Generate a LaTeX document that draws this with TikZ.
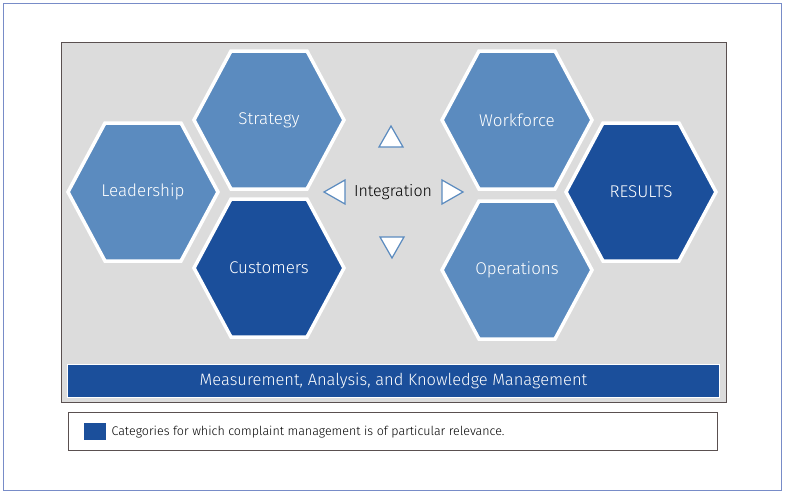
\documentclass[tikz,border=0pt]{standalone}
\usepackage{fontspec}
\setmainfont{Fira Sans Light}
\begin{document}
\begin{tikzpicture}[x=1pt,y=-1pt,
  hexa/.style={draw=white,line width=3.5pt,line join=miter},
  light/.style={fill=lb},dark/.style={fill=db},
  lab/.style={text=white,font=\fontsize{17}{20}\selectfont},
  tri/.style={fill=white,draw=lb,line width=1.2pt,line join=miter}]
\definecolor{lb}{HTML}{5B8BBF}
\definecolor{db}{HTML}{1B4F9B}
\definecolor{gr}{HTML}{DCDCDC}
\useasboundingbox (0,0) rectangle (785,493);
\draw[draw={rgb,255:red,120;green,140;blue,200},line width=0.8pt] (3,3) rectangle (781,490);
\draw[fill=gr,draw={rgb,255:red,90;green,80;blue,80},line width=0.8pt] (61,42) rectangle (726,402);
\newcommand{\hexag}[4]{%
 \draw[hexa,#3] (#1-75,#2) -- (#1-38,#2-69) -- (#1+38,#2-69) -- (#1+75,#2) -- (#1+38,#2+69) -- (#1-38,#2+69) -- cycle;
 \node[lab] (#4) at (#1,#2) {#4};}
\hexag{143}{192}{light}{Leadership}
\hexag{269}{120}{light}{Strategy}
\hexag{269}{268}{dark}{Customers}
\hexag{517}{120}{light}{Workforce}
\hexag{517}{270}{light}{Operations}
\hexag{641}{192}{dark}{RESULTS}
\node[font=\fontsize{16}{19}\selectfont] (int) at (393,192) {Integration};
\draw[tri] (379,147) -- (403,147) -- (391,126) -- cycle;
\draw[tri] (345,180) -- (345,204) -- (324,192) -- cycle;
\draw[tri] (442,180) -- (442,204) -- (463,192) -- cycle;
\draw[tri] (380,237) -- (404,237) -- (392,258) -- cycle;
\node[fill=db,draw=white,line width=1pt,minimum width=652pt,minimum height=33pt,text=white,font=\fontsize{16.5}{19}\selectfont] (mam) at (393.5,380.5) {Measurement, Analysis, and Knowledge Management};
\node[fill=white,draw={rgb,255:red,90;green,80;blue,80},line width=0.8pt,minimum width=649pt,minimum height=38pt] (leg) at (392.5,431) {};
\node[fill=db,minimum width=22pt,minimum height=17pt,inner sep=0pt] (sw) at (95,431) {};
\node[anchor=west,font=\fontsize{12.5}{15}\selectfont] (legt) at (108,432) {Categories for which complaint management is of particular relevance.};
\end{tikzpicture}
\end{document}
